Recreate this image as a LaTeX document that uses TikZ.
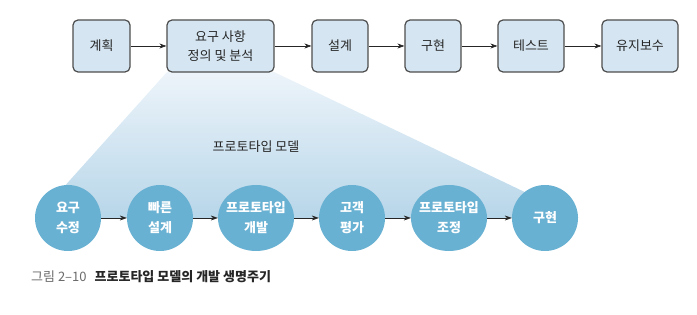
\documentclass[tikz,border=0pt]{standalone}
\usepackage{fontspec}
\setmainfont{Noto Sans CJK KR}
\usetikzlibrary{arrows.meta,shapes.geometric}

\definecolor{boxfill}{HTML}{D5E6F2}
\definecolor{boxline}{HTML}{4D4D4D}
\definecolor{stepfill}{HTML}{69B1D3}
\definecolor{shadetop}{HTML}{EDF4FA}
\definecolor{shadebot}{HTML}{B7D6E9}
\definecolor{capgray}{HTML}{6A6A6A}

\tikzset{
    phase/.style={draw=boxline, line width=1.2pt, fill=boxfill, rounded corners=5pt,
        minimum height=52pt, inner sep=0pt, align=center, font=\fontsize{13}{19}\selectfont, text=black!85},
    proto/.style={circle, fill=stepfill, minimum size=66pt, inner sep=0pt, align=center,
        text=white, font=\fontsize{13}{20}\selectfont\bfseries},
    protowide/.style={ellipse, fill=stepfill, minimum width=76pt, minimum height=66pt, inner xsep=-6pt,
        inner ysep=0pt, align=center, text=white, font=\fontsize{13}{20}\selectfont\bfseries},
    flow/.style={-{Stealth[length=7pt, width=5pt]}, line width=0.6pt, black!85}
}

\begin{document}
\begin{tikzpicture}[x=1pt, y=-1pt]
            \useasboundingbox (0, 0) rectangle (697, 315);

            % projection of the requirement phase
            \shade[top color=shadetop, bottom color=shadebot] (167, 72) -- (274, 72) -- (579, 218) -- (36, 218) -- cycle;

            \node[phase, minimum width=57pt] (plan) at (101.5, 46) {계획};
            \node[phase, minimum width=107pt] (req) at (220.5, 46) {요구 사항\\정의 및 분석};
            \node[phase, minimum width=56pt] (design) at (340, 46) {설계};
            \node[phase, minimum width=56pt] (impl) at (433, 46) {구현};
            \node[phase, minimum width=66pt] (test) at (531, 46) {테스트};
            \node[phase, minimum width=76pt] (maint) at (640, 46) {유지보수};

            \draw[flow] (plan) -- (req);
            \draw[flow] (req) -- (design);
            \draw[flow] (design) -- (impl);
            \draw[flow] (impl) -- (test);
            \draw[flow] (test) -- (maint);

            \node[font=\fontsize{13}{15}\selectfont, text=black!85] (model) at (256, 147) {프로토타입 모델};

            \node[proto] (gather) at (68, 218) {요구\\수정};
            \node[proto] (quick) at (160, 218) {빠른\\설계};
            \node[protowide] (build) at (256, 218) {프로토타입\\개발};
            \node[proto] (eval) at (352, 218) {고객\\평가};
            \node[protowide] (refine) at (449, 218) {프로토타입\\조정};
            \node[proto] (engr) at (545, 218) {구현};

            \draw[flow] (gather) -- (quick);
            \draw[flow] (quick) -- (build);
            \draw[flow] (build) -- (eval);
            \draw[flow] (eval) -- (refine);
            \draw[flow] (refine) -- (engr);

            \node[anchor=west, font=\fontsize{13}{15}\selectfont, inner sep=0pt] (caption) at (31, 277)
                {\textcolor{capgray}{그림 2–10}\hspace{8pt}{\bfseries\color{black!85}프로토타입 모델의 개발 생명주기}};
        \end{tikzpicture}
\end{document}
